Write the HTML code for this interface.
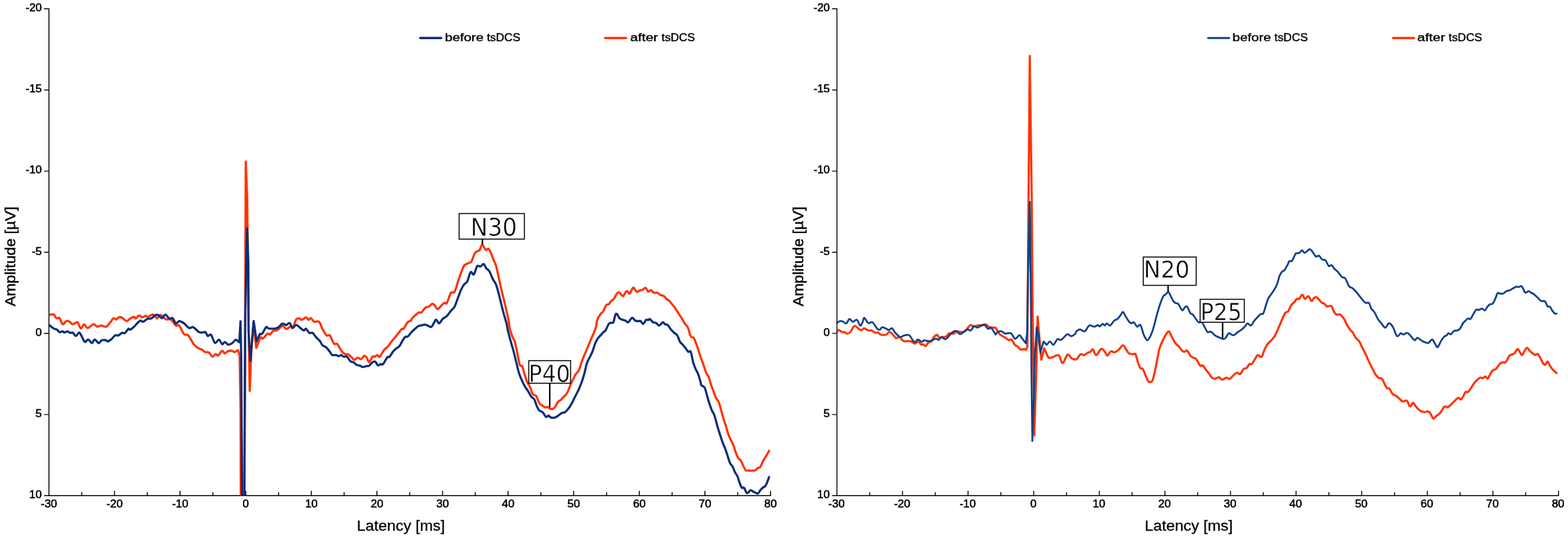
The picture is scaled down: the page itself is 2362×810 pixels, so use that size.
<!DOCTYPE html>
<html lang="en">
<head>
<meta charset="utf-8">
<title>SEP before and after tsDCS</title>
<style>
html,body{margin:0;padding:0;background:#fff;}
body{width:2362px;height:810px;overflow:hidden;}
svg{display:block;filter:blur(0.4px);}
.tk text{font-family:"Liberation Sans",sans-serif;font-size:16px;fill:#000;stroke:#000;stroke-width:0.55px;}
.ax{font-family:"Liberation Sans",sans-serif;font-size:22.4px;fill:#000;stroke:#000;stroke-width:0.3px;}
.lg{font-family:"Liberation Sans",sans-serif;font-size:16px;fill:#000;stroke:#000;stroke-width:0.4px;}
.an{font-family:"DejaVu Sans","Liberation Sans",sans-serif;fill:#000;stroke:#fff;stroke-width:0.6px;}
.cv{fill:none;stroke-linejoin:round;stroke-linecap:round;}
</style>
</head>
<body>
<svg width="2362" height="810" viewBox="0 0 2362 810">
<defs>
<clipPath id="cl"><rect x="74" y="0" width="1090" height="746.6"/></clipPath>
<clipPath id="cr"><rect x="1261" y="0" width="1090" height="746.6"/></clipPath>
</defs>
<rect width="2362" height="810" fill="#fff"/>

<!-- left chart -->
<path d="M73.7,13.3 V746.2 H1160.7 M67.1,13.3 H73.7 M67.1,135.5 H73.7 M67.1,257.6 H73.7 M67.1,379.8 H73.7 M67.1,501.9 H73.7 M67.1,624.1 H73.7 M67.1,746.2 H73.7 M73.7,746.2 V739.6 M123.1,746.2 V741.6 M172.5,746.2 V739.6 M221.9,746.2 V741.6 M271.3,746.2 V739.6 M320.7,746.2 V741.6 M370.2,746.2 V739.6 M419.6,746.2 V741.6 M469.0,746.2 V739.6 M518.4,746.2 V741.6 M567.8,746.2 V739.6 M617.2,746.2 V741.6 M666.6,746.2 V739.6 M716.0,746.2 V741.6 M765.4,746.2 V739.6 M814.8,746.2 V741.6 M864.2,746.2 V739.6 M913.7,746.2 V741.6 M963.1,746.2 V739.6 M1012.5,746.2 V741.6 M1061.9,746.2 V739.6 M1111.3,746.2 V741.6 M1160.7,746.2 V739.6" fill="none" stroke="#000" stroke-width="1.45" stroke-linecap="square"/>
<g class="tk" text-anchor="end">
<text x="63.0" y="17.1" textLength="24.5" lengthAdjust="spacingAndGlyphs">-20</text>
<text x="63.0" y="139.3" textLength="24.5" lengthAdjust="spacingAndGlyphs">-15</text>
<text x="63.0" y="261.4" textLength="24.5" lengthAdjust="spacingAndGlyphs">-10</text>
<text x="63.0" y="383.6" textLength="15.0" lengthAdjust="spacingAndGlyphs">-5</text>
<text x="63.0" y="505.7" textLength="9.4" lengthAdjust="spacingAndGlyphs">0</text>
<text x="63.0" y="627.9" textLength="9.4" lengthAdjust="spacingAndGlyphs">5</text>
<text x="63.0" y="750.0" textLength="18.9" lengthAdjust="spacingAndGlyphs">10</text>
</g>
<g class="tk" text-anchor="middle">
<text x="73.8" y="764.1" textLength="24.5" lengthAdjust="spacingAndGlyphs">-30</text>
<text x="172.6" y="764.1" textLength="24.5" lengthAdjust="spacingAndGlyphs">-20</text>
<text x="271.4" y="764.1" textLength="24.5" lengthAdjust="spacingAndGlyphs">-10</text>
<text x="370.3" y="764.1" textLength="9.4" lengthAdjust="spacingAndGlyphs">0</text>
<text x="469.1" y="764.1" textLength="18.9" lengthAdjust="spacingAndGlyphs">10</text>
<text x="567.9" y="764.1" textLength="18.9" lengthAdjust="spacingAndGlyphs">20</text>
<text x="666.7" y="764.1" textLength="18.9" lengthAdjust="spacingAndGlyphs">30</text>
<text x="765.5" y="764.1" textLength="18.9" lengthAdjust="spacingAndGlyphs">40</text>
<text x="864.3" y="764.1" textLength="18.9" lengthAdjust="spacingAndGlyphs">50</text>
<text x="963.2" y="764.1" textLength="18.9" lengthAdjust="spacingAndGlyphs">60</text>
<text x="1062.0" y="764.1" textLength="18.9" lengthAdjust="spacingAndGlyphs">70</text>
<text x="1160.8" y="764.1" textLength="18.9" lengthAdjust="spacingAndGlyphs">80</text>
</g>
<text class="ax" x="537.4" y="799.1" textLength="132.9" lengthAdjust="spacingAndGlyphs">Latency [ms]</text>
<text class="ax" style="stroke-width:0.5px" transform="translate(23.3 461.2) rotate(-90)" textLength="150.2" lengthAdjust="spacingAndGlyphs">Amplitude [µV]</text>
<g clip-path="url(#cl)">
<path class="cv" d="M74.1,474.1C75.2,473.9 79.2,472.5 81.0,473.3C82.8,474.2 83.2,478.0 84.7,479.0C86.2,480.0 88.0,477.4 89.6,479.0C91.3,480.6 92.9,487.6 94.6,488.4C96.2,489.2 97.8,484.2 99.5,483.5C101.2,482.7 102.8,483.2 104.4,484.0C106.1,484.7 107.3,487.9 109.4,488.1C111.5,488.4 114.7,484.1 116.8,485.2C118.9,486.3 120.0,494.0 121.7,494.6C123.4,495.1 125.0,488.5 126.7,488.4C128.3,488.3 129.9,493.4 131.6,493.8C133.3,494.2 134.9,491.8 136.5,490.9C138.2,489.9 139.8,488.0 141.5,488.1C143.2,488.3 144.5,491.5 146.4,491.9C148.3,492.2 150.3,490.1 152.6,490.1C154.9,490.1 157.7,492.7 160.0,491.9C162.3,491.0 164.3,487.4 166.2,485.2C168.1,483.0 169.6,479.7 171.1,479.0C172.6,478.3 173.3,481.3 174.8,481.0C176.3,480.7 178.1,477.6 179.8,477.3C181.4,476.9 182.8,478.0 184.7,479.0C186.6,480.1 188.8,483.5 190.9,483.5C193.0,483.5 195.1,480.1 197.0,479.0C198.9,477.9 200.7,477.0 202.0,477.0C203.2,477.1 203.2,479.9 204.4,479.5C205.7,479.1 207.7,475.1 209.4,474.8C211.1,474.5 212.6,477.7 214.3,477.8C216.0,477.9 217.8,475.4 219.3,475.3C220.7,475.2 221.1,477.6 223.0,477.3C224.9,476.9 228.1,473.0 230.4,473.3C232.7,473.7 234.7,479.4 236.5,479.5C238.4,479.6 239.2,473.9 241.5,474.1C243.8,474.3 247.4,479.6 250.1,480.7C252.9,481.9 255.0,479.4 257.5,481.0C260.0,482.6 262.8,488.6 264.9,490.1C267.0,491.7 267.8,487.9 269.9,490.1C272.0,492.3 275.0,500.7 277.3,503.2C279.6,505.7 280.9,502.3 283.5,504.9C286.0,507.5 289.4,515.2 292.1,518.5C294.8,521.9 297.4,523.3 299.5,524.7C301.6,526.0 303.0,525.6 304.4,526.4C305.9,527.3 307.2,529.0 308.1,529.6C309.1,530.3 308.8,529.9 310.0,530.1C311.2,530.4 313.3,529.9 314.9,531.1C316.6,532.3 318.2,536.7 319.9,537.0C321.6,537.4 323.3,533.4 324.8,533.1C326.3,532.8 327.1,535.9 328.8,535.1C330.4,534.2 333.0,528.7 334.7,528.1C336.4,527.6 337.1,532.0 338.6,532.1C340.2,532.2 341.7,529.3 343.6,528.6C345.4,528.0 347.8,527.9 349.5,528.1C351.2,528.4 351.9,530.3 353.5,530.1L358.4,527.2L361.0,535.0L362.4,620.0L363.0,900.0L367.3,900.0L369.3,480.0L370.2,243.2L372.4,300.0L374.6,500.0L376.2,588.4L378.8,525.0L382.0,487.0L386.0,524.0L392.0,508.4C393.7,506.0 394.1,510.9 395.9,509.9C397.8,508.9 401.0,503.6 402.8,502.5C404.7,501.4 405.3,504.2 406.8,503.5C408.3,502.7 410.0,499.0 411.7,498.0C413.4,497.0 415.3,498.0 416.7,497.5C418.0,497.1 418.1,496.7 419.6,495.6C421.1,494.4 423.8,490.8 425.6,490.6C427.3,490.4 428.8,493.8 430.0,494.6C431.2,495.3 431.3,495.6 432.6,495.1C433.9,494.5 436.1,491.6 437.5,491.4C439.0,491.1 439.8,495.6 441.2,493.8C442.7,492.1 444.5,483.4 446.2,481.0C447.9,478.6 449.6,479.4 451.1,479.5C452.6,479.6 453.1,481.8 454.8,481.5C456.5,481.2 459.3,477.8 461.0,477.8C462.7,477.8 463.4,481.3 464.7,481.5C466.0,481.7 466.9,478.5 468.4,479.0C469.9,479.5 471.2,483.5 473.3,484.4C475.4,485.4 478.6,482.6 480.7,484.4C482.8,486.2 483.8,491.6 485.7,495.1C487.6,498.5 490.0,503.3 491.9,504.9C493.7,506.6 494.9,502.8 496.8,504.9C498.7,507.0 501.1,515.1 503.0,517.3C504.9,519.5 505.8,515.9 507.9,518.0C510.0,520.1 513.2,527.0 515.3,529.6C517.4,532.2 518.8,532.7 520.2,533.3C521.7,534.0 522.3,532.5 524.0,533.3C525.6,534.2 528.4,536.8 530.1,538.3C531.8,539.7 532.4,542.0 533.8,542.0C535.3,542.0 537.1,538.5 538.8,538.3C540.4,538.1 542.0,541.2 543.7,540.7C545.4,540.3 547.2,536.2 548.6,535.8C550.1,535.4 551.1,536.7 552.3,538.3C553.6,539.9 554.6,545.4 556.0,545.2C557.5,545.0 559.5,538.4 561.0,537.0C562.5,535.7 563.4,537.5 564.7,537.0C566.0,536.6 567.1,534.6 568.4,534.6C569.7,534.6 570.4,538.3 572.1,537.0C573.8,535.8 576.2,529.8 578.3,527.2C580.4,524.5 582.6,523.6 584.4,521.5C586.3,519.4 587.5,517.2 589.4,514.8C591.3,512.4 593.7,509.7 595.6,507.4C597.4,505.1 598.8,503.3 600.5,501.2C602.2,499.1 604.2,496.1 605.4,495.1C606.7,494.0 606.4,496.7 607.9,495.1C609.4,493.4 612.2,487.3 614.1,485.2C616.0,483.1 618.0,483.6 619.0,482.7C620.0,481.9 618.8,481.7 620.0,480.2C621.2,478.8 624.3,475.8 626.2,474.1C628.1,472.4 629.6,471.0 631.1,470.4C632.6,469.7 633.1,471.6 634.8,470.4C636.5,469.1 639.1,464.4 641.0,463.0C642.9,461.5 644.2,462.7 645.9,461.7C647.6,460.8 649.4,458.0 650.9,457.5C652.3,457.1 653.2,457.9 654.6,459.3C656.0,460.6 657.3,465.2 659.0,465.4C660.7,465.6 662.7,462.1 664.4,460.5C666.2,458.9 667.9,456.8 669.4,456.0C670.9,455.3 671.4,458.7 673.1,456.0C674.8,453.4 677.3,443.6 679.3,440.7C681.2,437.9 682.8,442.7 684.7,439.5C686.6,436.4 688.6,427.5 690.4,422.2C692.2,417.0 693.8,412.4 695.3,408.6C696.8,404.9 697.8,401.9 699.0,400.0C700.3,398.1 701.5,398.2 702.7,397.5C704.0,396.8 705.2,396.4 706.4,395.8C707.7,395.2 708.7,396.3 710.1,393.8C711.6,391.4 713.6,384.1 715.1,381.5C716.5,378.9 717.5,379.4 718.8,378.5C720.0,377.7 721.2,378.2 722.5,376.5C723.7,374.9 724.9,369.1 726.2,368.6C727.4,368.1 728.8,372.2 729.9,373.6C730.9,374.9 731.3,376.4 732.3,376.5C733.4,376.7 734.8,373.7 736.0,374.6C737.3,375.4 738.5,378.6 739.8,381.5C741.0,384.3 742.2,388.2 743.5,391.4C744.7,394.5 745.9,395.8 747.2,400.0C748.4,404.2 749.4,409.5 750.9,416.0C752.3,422.6 754.1,431.1 755.8,438.3C757.5,445.4 759.1,450.9 760.7,458.0C762.4,465.2 764.4,474.0 765.7,480.2C766.9,486.5 767.1,490.2 768.1,494.8C769.2,499.4 770.6,503.8 771.9,507.2C773.1,510.5 774.3,510.4 775.6,514.6C776.8,518.8 778.0,526.0 779.3,531.9C780.5,537.7 781.7,545.8 783.0,549.1C784.2,552.5 785.4,549.1 786.7,551.6C787.9,554.1 789.1,560.0 790.4,564.0C791.6,567.9 792.8,572.1 794.1,575.1C795.3,578.0 796.3,578.1 797.8,581.2C799.2,584.4 801.0,591.1 802.7,593.6C804.4,596.1 806.0,593.7 807.7,596.0C809.3,598.4 810.9,604.6 812.6,607.2C814.3,609.7 816.1,609.8 817.5,610.9C819.0,611.9 820.0,613.0 821.2,613.3C822.5,613.7 823.7,612.5 824.9,612.8C826.2,613.2 827.2,614.9 828.6,615.3C830.1,615.7 832.1,616.1 833.6,615.3C835.0,614.6 836.0,612.7 837.3,610.9C838.5,609.1 839.7,606.2 841.0,604.7C842.2,603.2 843.4,603.4 844.7,602.2C846.0,601.1 847.1,599.3 848.4,598.0C849.7,596.8 850.8,596.4 852.1,594.8C853.4,593.2 854.5,591.4 855.8,588.6C857.1,585.9 858.2,581.7 859.5,578.8C860.8,575.8 862.0,573.9 863.2,571.4C864.5,568.8 865.4,566.3 866.9,564.0C868.4,561.6 870.4,560.7 871.9,557.8C873.3,554.8 874.3,550.2 875.6,546.7C876.8,543.1 877.8,540.4 879.3,536.8C880.7,533.2 882.5,529.7 884.2,525.7C885.9,521.7 887.5,517.3 889.1,513.3C890.8,509.3 892.6,505.8 894.1,502.2C895.5,498.7 896.8,495.9 897.8,492.3C898.7,488.8 898.6,484.8 899.8,481.5C900.9,478.2 903.2,474.9 904.7,472.8C906.2,470.7 906.9,471.4 908.4,469.1C909.9,466.8 911.9,461.1 913.3,459.3C914.8,457.4 915.8,459.1 917.0,458.0C918.3,457.0 919.5,454.3 920.7,453.1C922.0,451.8 923.0,452.5 924.4,450.6C925.9,448.7 928.0,443.8 929.4,442.0C930.7,440.2 931.3,439.8 932.3,440.0C933.4,440.2 934.5,442.2 935.6,443.2C936.6,444.2 937.5,446.4 938.8,445.7C940.0,445.0 941.8,440.1 943.0,439.0C944.1,437.9 944.5,438.5 945.4,439.0C946.4,439.5 947.3,442.9 948.6,442.0C950.0,441.0 952.2,434.4 953.6,433.3C954.9,432.3 955.5,434.8 956.5,435.8C957.6,436.9 958.2,439.3 959.5,439.5C960.8,439.7 962.6,437.5 964.0,437.0C965.3,436.5 966.2,437.2 967.7,436.5C969.1,435.9 971.1,432.9 972.6,433.3C974.1,433.8 974.9,438.4 976.3,439.0C977.7,439.6 979.3,436.7 980.7,437.0C982.2,437.3 983.4,440.1 984.9,440.7C986.5,441.4 988.2,440.2 989.9,440.7C991.6,441.3 993.1,443.1 994.8,444.0C996.5,444.8 998.1,444.5 999.8,445.7C1001.4,446.8 1003.2,449.4 1004.7,450.6C1006.2,451.9 1006.9,451.6 1008.4,453.1C1009.9,454.6 1011.9,457.5 1013.3,459.3C1014.8,461.1 1015.6,461.6 1017.0,463.7C1018.5,465.8 1020.3,469.0 1022.0,471.6C1023.7,474.2 1025.2,476.3 1026.9,479.0C1028.6,481.7 1030.3,485.3 1031.9,487.7C1033.4,490.0 1034.6,489.4 1036.0,492.6C1037.5,495.7 1039.0,503.4 1040.5,506.2C1042.0,508.9 1043.5,506.5 1044.9,508.6C1046.4,510.7 1047.8,515.0 1049.1,518.5C1050.5,522.1 1051.6,525.9 1052.8,529.6C1054.1,533.4 1055.3,537.2 1056.5,540.7C1057.8,544.3 1059.0,547.0 1060.2,550.6C1061.5,554.2 1062.7,558.8 1064.0,561.7C1065.2,564.7 1066.4,564.8 1067.7,567.9C1068.9,571.0 1070.1,576.3 1071.4,580.0C1072.6,583.7 1073.8,586.5 1075.1,589.9C1076.3,593.2 1077.5,597.2 1078.8,599.8C1080.0,602.3 1081.2,601.8 1082.5,604.7C1083.7,607.6 1084.9,612.6 1086.2,617.0C1087.4,621.4 1088.6,626.4 1089.9,630.6C1091.1,634.8 1092.3,637.7 1093.6,641.7C1094.8,645.7 1096.0,650.5 1097.3,654.1C1098.5,657.6 1099.7,660.0 1101.0,662.7C1102.2,665.4 1103.4,667.0 1104.7,670.1C1106.0,673.3 1107.1,677.9 1108.4,681.2C1109.7,684.6 1110.8,687.9 1112.1,689.9C1113.4,691.9 1114.5,691.2 1115.8,693.1C1117.1,695.0 1118.2,698.5 1119.5,701.0C1120.8,703.5 1122.0,706.6 1123.2,707.9C1124.5,709.2 1124.6,708.3 1126.9,708.4C1129.2,708.5 1134.3,709.0 1136.8,708.4C1139.3,707.8 1140.3,705.6 1141.7,704.7C1143.2,703.8 1144.2,704.6 1145.4,703.0C1146.7,701.3 1147.9,697.2 1149.1,694.8C1150.4,692.4 1151.6,690.7 1152.8,688.6C1154.1,686.5 1155.6,684.1 1156.5,682.5C1157.5,680.8 1158.2,679.4 1158.5,678.8" stroke="#ff3300" stroke-width="3.3"/>
<path class="cv" d="M74.1,489.4C75.2,490.3 79.0,493.4 81.0,494.6C83.0,495.7 84.5,495.4 85.9,496.3C87.4,497.2 88.2,499.6 89.6,500.0C91.1,500.4 93.3,498.6 94.6,498.8C95.8,498.9 95.8,500.7 97.0,500.7C98.3,500.7 100.5,498.7 102.0,498.8C103.4,498.8 104.4,500.9 105.7,501.2C106.9,501.6 107.9,500.0 109.4,500.7C110.9,501.5 112.6,505.7 114.3,505.7C116.0,505.7 117.8,500.7 119.3,500.7C120.7,500.8 121.5,503.8 123.0,506.2C124.4,508.6 126.2,514.0 127.9,514.8C129.6,515.7 131.0,510.8 132.8,511.1C134.6,511.4 136.8,516.5 138.5,516.5C140.2,516.5 141.0,511.1 142.7,511.1C144.4,511.1 146.6,516.3 148.4,516.5C150.2,516.8 151.4,513.1 153.3,512.3C155.3,511.6 158.4,512.1 160.0,512.3C161.6,512.6 161.2,514.3 162.5,514.1C163.7,513.9 165.5,512.7 167.4,511.1C169.3,509.6 171.7,506.0 173.6,504.9C175.5,503.9 176.8,505.6 178.5,504.9C180.2,504.3 181.8,501.9 183.5,501.2C185.1,500.6 186.7,502.3 188.4,501.2C190.1,500.2 192.1,495.9 193.3,495.1C194.6,494.2 194.3,496.8 195.8,496.3C197.3,495.8 199.9,493.7 202.0,491.9C204.1,490.0 206.5,486.7 208.1,485.2C209.8,483.6 210.6,482.8 211.9,482.7C213.1,482.6 213.9,484.9 215.6,484.4C217.2,484.0 219.6,481.1 221.7,480.2C223.8,479.4 226.0,480.3 227.9,479.5C229.8,478.7 231.2,476.2 232.8,475.3C234.5,474.4 235.9,473.4 237.8,474.1C239.7,474.7 242.1,479.1 244.0,479.0C245.8,478.9 247.0,473.5 248.9,473.6C250.8,473.7 253.2,478.6 255.1,479.5C257.0,480.4 258.3,477.8 260.0,479.0C261.7,480.3 263.3,486.2 264.9,486.9C266.6,487.7 267.8,483.5 269.9,483.5C272.0,483.5 274.8,485.2 277.3,486.9C279.8,488.7 282.4,492.9 284.7,493.8C287.0,494.8 288.6,491.8 290.9,492.6C293.2,493.4 296.4,497.4 298.3,498.8C300.2,500.2 300.3,500.5 302.0,500.7C303.7,501.0 306.8,500.0 308.1,500.0C309.5,500.0 309.2,499.5 310.0,500.5C310.8,501.5 311.6,505.3 313.0,505.9C314.3,506.5 316.1,502.2 317.9,504.0C319.7,505.7 321.8,515.0 323.8,516.3C325.8,517.6 327.9,511.0 329.8,511.4C331.6,511.7 333.2,517.7 334.7,518.3C336.2,518.9 337.1,514.7 338.6,514.8C340.2,514.9 341.7,518.4 343.6,518.8C345.4,519.1 347.5,518.0 349.5,516.8C351.5,515.5 353.6,511.6 355.4,511.4L360.4,515.3L362.3,483.7L363.4,540.0L365.5,900.0L367.3,900.0L369.5,470.0L372.2,344.0L374.0,392.0L374.4,500.0L377.2,543.0L382.1,483.2L386.5,513.8L391.0,503.5C392.4,501.5 393.3,504.3 394.9,502.5C396.6,500.6 399.2,493.9 400.9,492.6C402.5,491.2 402.5,494.2 404.8,494.6C407.2,494.9 412.2,494.9 414.7,494.6C417.2,494.2 417.8,493.9 419.6,492.6C421.5,491.3 423.8,487.7 425.6,487.2C427.3,486.6 429.0,488.8 430.0,489.1C431.0,489.5 430.3,489.8 431.4,489.4C432.4,488.9 434.7,485.7 436.3,486.4C437.9,487.1 439.1,492.8 440.7,493.3C442.4,493.8 444.4,489.5 446.2,489.4C447.9,489.3 449.2,491.2 451.1,492.6C453.0,494.0 455.6,497.1 457.3,497.5C459.0,498.0 459.5,494.4 461.0,495.1C462.5,495.7 464.2,500.2 465.9,501.2C467.6,502.3 469.2,500.2 470.9,501.2C472.5,502.3 473.9,505.3 475.8,507.4C477.7,509.5 480.3,511.5 482.0,513.6C483.7,515.7 484.0,518.1 485.7,519.8C487.4,521.4 490.0,521.8 491.9,523.5C493.7,525.1 495.3,527.7 496.8,529.6C498.3,531.5 498.8,533.7 500.5,534.6C502.2,535.4 505.0,534.3 506.7,534.6C508.3,534.9 509.1,536.3 510.4,536.3C511.6,536.3 512.8,534.4 514.1,534.6C515.3,534.7 516.3,536.6 517.8,537.0C519.2,537.5 521.0,535.9 522.7,537.0C524.4,538.2 526.0,542.2 527.7,543.7C529.3,545.2 530.9,544.7 532.6,545.7C534.3,546.6 535.9,548.5 537.5,549.4C539.2,550.2 541.0,550.1 542.5,550.6C543.9,551.2 544.5,552.5 546.2,552.6C547.9,552.7 550.7,551.4 552.3,551.1C554.0,550.8 554.6,551.5 556.0,550.6C557.5,549.7 559.4,546.7 561.0,545.7C562.5,544.6 563.7,543.7 565.2,544.4C566.7,545.2 568.2,549.5 569.6,550.1C571.0,550.8 572.1,548.5 573.3,548.1C574.6,547.8 575.4,549.8 577.0,548.1C578.7,546.5 581.5,540.2 583.2,538.3C584.9,536.4 585.4,538.5 586.9,537.0C588.4,535.6 590.2,531.7 591.9,529.6C593.5,527.5 595.1,526.2 596.8,524.7C598.5,523.2 600.0,523.1 601.7,521.0C603.4,518.9 605.2,514.7 606.7,512.3C608.1,510.0 609.1,508.4 610.4,507.4C611.6,506.4 612.6,507.7 614.1,506.7C615.5,505.6 618.0,502.4 619.0,501.2C620.0,500.1 619.0,500.8 620.0,499.8C621.0,498.7 623.3,496.8 624.9,495.3C626.6,493.8 628.2,492.0 629.9,491.1C631.6,490.2 633.1,490.3 634.8,489.9C636.5,489.5 638.1,488.6 639.8,488.6C641.4,488.7 643.0,489.7 644.7,490.4C646.4,491.0 648.2,492.9 649.6,492.3C651.1,491.8 652.1,488.8 653.3,486.9C654.6,485.0 655.7,481.2 657.0,481.2C658.4,481.2 659.8,487.1 661.5,486.9C663.2,486.7 664.9,481.9 666.9,480.0C668.9,478.1 671.0,477.9 673.1,475.8C675.2,473.7 677.3,470.3 679.3,467.9C681.2,465.5 682.8,465.3 684.7,461.7C686.6,458.2 688.6,451.5 690.4,446.9C692.2,442.3 693.8,437.7 695.3,434.6C696.8,431.4 697.5,430.3 699.0,428.4C700.5,426.5 702.3,426.6 704.0,423.5C705.6,420.3 707.2,411.6 708.9,409.9C710.6,408.1 712.1,414.6 713.8,413.1C715.5,411.5 717.1,402.8 718.8,400.7C720.4,398.7 722.0,401.8 723.7,401.2C725.4,400.7 727.2,397.1 728.6,397.5C730.1,398.0 730.9,401.8 732.3,403.7C733.8,405.6 735.6,405.9 737.3,408.6C739.0,411.4 740.5,416.4 742.2,419.8C743.9,423.1 745.7,424.8 747.2,428.4C748.6,432.0 749.6,436.1 750.9,440.7C752.1,445.4 753.3,450.5 754.6,455.6C755.8,460.6 756.8,464.9 758.3,470.4C759.7,475.8 762.2,483.5 763.2,487.7C764.3,491.8 763.6,491.1 764.4,494.8C765.3,498.6 766.7,504.2 768.1,509.6C769.6,515.1 771.4,520.6 773.1,526.9C774.8,533.2 776.6,540.8 778.0,546.7C779.5,552.5 780.3,556.9 781.7,561.5C783.2,566.1 785.2,570.5 786.7,573.8C788.1,577.2 788.9,578.7 790.4,581.2C791.8,583.8 793.6,585.9 795.3,588.6C797.0,591.4 798.7,595.2 800.2,597.3C801.8,599.4 803.2,598.5 804.7,601.0C806.2,603.5 807.5,609.2 808.9,612.1C810.2,615.0 811.1,616.8 812.6,618.3C814.1,619.7 815.9,619.1 817.5,620.7C819.2,622.3 821.0,626.8 822.5,627.7C823.9,628.5 824.9,625.5 826.2,625.7C827.4,625.8 828.2,628.1 829.9,628.6C831.6,629.1 834.2,629.1 836.0,628.6C837.9,628.1 839.3,626.8 841.0,625.7C842.7,624.5 844.2,622.8 845.9,622.0C847.6,621.1 849.2,621.8 850.9,620.7C852.5,619.7 854.1,617.9 855.8,615.8C857.5,613.7 859.3,610.9 860.7,608.4C862.2,605.9 863.2,603.5 864.4,601.0C865.7,598.5 866.9,596.1 868.1,593.6C869.4,591.1 870.4,589.5 871.9,586.2C873.3,582.8 875.3,578.0 876.8,573.8C878.3,569.6 879.3,565.8 880.5,561.5C881.7,557.1 882.5,551.9 883.7,548.1C884.9,544.4 885.9,542.7 887.4,539.5C888.9,536.4 890.9,533.2 892.3,529.6C893.8,526.1 894.8,521.8 896.0,518.5C897.3,515.3 898.3,512.9 899.8,510.6C901.2,508.3 903.2,506.6 904.7,504.9C906.2,503.3 907.1,502.0 908.4,500.7C909.7,499.5 910.6,499.8 912.1,497.5C913.6,495.3 915.6,489.6 917.0,487.7C918.5,485.7 919.6,486.3 920.7,485.9C921.9,485.5 922.9,487.2 924.0,485.2C925.0,483.2 926.0,476.2 926.9,474.1C927.8,472.0 928.3,472.0 929.4,472.8C930.4,473.7 931.6,477.5 933.1,479.0C934.6,480.5 936.5,480.9 938.0,481.5C939.6,482.1 940.8,482.1 942.2,482.7C943.6,483.3 944.8,485.6 946.2,485.2C947.6,484.8 949.2,481.4 950.4,480.2C951.5,479.1 951.7,478.1 952.8,478.5C954.0,478.9 955.6,481.9 957.0,482.7C958.5,483.6 960.1,483.3 961.5,483.5C962.9,483.6 963.9,482.7 965.2,483.5C966.4,484.2 967.5,488.0 968.9,487.7C970.3,487.3 972.1,482.4 973.3,481.5C974.6,480.5 975.4,482.2 976.3,482.0C977.2,481.8 977.5,479.7 978.8,480.2C980.0,480.8 982.0,484.1 983.7,485.2C985.4,486.2 987.2,485.6 988.6,486.4C990.1,487.3 991.1,489.9 992.3,490.1C993.6,490.3 995.0,488.5 996.0,487.7C997.1,486.8 997.5,485.1 998.5,485.2C999.6,485.3 1001.0,487.7 1002.2,488.4C1003.5,489.1 1004.5,488.0 1005.9,489.4C1007.4,490.7 1009.2,494.3 1010.9,496.3C1012.5,498.3 1014.2,499.8 1015.8,501.2C1017.4,502.7 1018.8,502.6 1020.2,504.9C1021.7,507.2 1023.1,512.5 1024.4,514.8C1025.8,517.1 1026.7,516.8 1028.1,518.5C1029.6,520.2 1031.6,522.8 1033.1,524.7C1034.6,526.6 1035.5,528.8 1036.8,529.6C1038.0,530.5 1039.2,526.9 1040.5,529.6C1041.8,532.4 1042.9,541.3 1044.2,545.7C1045.5,550.1 1046.6,552.6 1047.9,555.6C1049.2,558.5 1050.3,559.6 1051.6,563.0C1052.9,566.3 1054.5,572.4 1055.3,575.3C1056.1,578.2 1055.5,578.6 1056.5,580.0C1057.6,581.4 1060.0,581.0 1061.5,583.7C1063.0,586.4 1063.9,591.9 1065.2,596.0C1066.4,600.2 1067.6,604.6 1068.9,608.4C1070.1,612.2 1071.3,615.3 1072.6,618.3C1073.9,621.2 1075.0,622.1 1076.3,625.7C1077.6,629.2 1078.7,634.9 1080.0,639.3C1081.3,643.7 1082.2,647.0 1083.7,651.6C1085.2,656.2 1087.2,662.4 1088.6,666.4C1090.1,670.4 1091.1,671.7 1092.3,675.1C1093.6,678.4 1094.8,682.4 1096.0,686.2C1097.3,690.0 1098.5,694.6 1099.8,697.3C1101.0,700.0 1102.2,699.9 1103.5,702.2C1104.7,704.5 1105.9,708.3 1107.2,710.9C1108.4,713.4 1109.6,714.1 1110.9,717.0C1112.1,720.0 1113.4,725.2 1114.6,728.1C1115.7,731.1 1116.5,733.3 1117.5,734.3C1118.6,735.4 1119.6,733.1 1120.7,734.3C1121.9,735.6 1123.4,740.5 1124.4,741.7C1125.5,743.0 1125.9,742.4 1126.9,741.7C1128.0,741.1 1129.4,738.3 1130.6,738.0C1131.9,737.7 1133.1,739.4 1134.3,740.0C1135.6,740.6 1136.8,741.2 1138.0,741.7C1139.3,742.2 1140.5,743.6 1141.7,743.0C1143.0,742.3 1144.2,739.5 1145.4,738.0C1146.7,736.6 1147.9,735.4 1149.1,734.3C1150.4,733.3 1151.8,733.1 1152.8,731.9C1153.9,730.6 1154.3,729.2 1155.3,726.9C1156.3,724.6 1158.0,719.7 1158.5,718.3" stroke="#0a2d76" stroke-width="3.3"/>
</g>
<path d="M633.1,57.3 h31.4" stroke="#0a2d76" stroke-width="3.6" stroke-linecap="round" fill="none"/>
<text class="lg" y="62.3"><tspan x="670.3" textLength="58" lengthAdjust="spacingAndGlyphs">before</tspan><tspan x="733.5" textLength="50.3" lengthAdjust="spacingAndGlyphs">tsDCS</tspan></text>
<path d="M911.6,57.3 h31.4" stroke="#ff3300" stroke-width="3.6" stroke-linecap="round" fill="none"/>
<text class="lg" y="62.3"><tspan x="949.3" textLength="42" lengthAdjust="spacingAndGlyphs">after</tspan><tspan x="996.6" textLength="50.3" lengthAdjust="spacingAndGlyphs">tsDCS</tspan></text>
<rect x="691.6" y="321.5" width="98.3" height="38.5" fill="#fff" stroke="#000" stroke-width="1.5"/><text class="an" x="708.7" y="354.7" font-size="36.6" textLength="70.2" lengthAdjust="spacingAndGlyphs">N30</text><path d="M726.7,360.0 V368.5" stroke="#000" stroke-width="2.2" fill="none"/>
<rect x="796.5" y="543.0" width="63.0" height="34.0" fill="#fff" stroke="#000" stroke-width="1.5"/><text class="an" x="796.3" y="574.6" font-size="35.8" textLength="62.9" lengthAdjust="spacingAndGlyphs">P40</text><path d="M828.1,577.0 V613.3" stroke="#000" stroke-width="2.2" fill="none"/>

<!-- right chart -->
<path d="M1260.7,13.3 V746.2 H2347.7 M1254.1,13.3 H1260.7 M1254.1,135.5 H1260.7 M1254.1,257.6 H1260.7 M1254.1,379.8 H1260.7 M1254.1,501.9 H1260.7 M1254.1,624.1 H1260.7 M1254.1,746.2 H1260.7 M1260.7,746.2 V739.6 M1310.1,746.2 V741.6 M1359.5,746.2 V739.6 M1408.9,746.2 V741.6 M1458.3,746.2 V739.6 M1507.7,746.2 V741.6 M1557.2,746.2 V739.6 M1606.6,746.2 V741.6 M1656.0,746.2 V739.6 M1705.4,746.2 V741.6 M1754.8,746.2 V739.6 M1804.2,746.2 V741.6 M1853.6,746.2 V739.6 M1903.0,746.2 V741.6 M1952.4,746.2 V739.6 M2001.8,746.2 V741.6 M2051.2,746.2 V739.6 M2100.7,746.2 V741.6 M2150.1,746.2 V739.6 M2199.5,746.2 V741.6 M2248.9,746.2 V739.6 M2298.3,746.2 V741.6 M2347.7,746.2 V739.6" fill="none" stroke="#000" stroke-width="1.4" stroke-linecap="square"/>
<g class="tk" text-anchor="end">
<text x="1250.0" y="17.1" textLength="24.5" lengthAdjust="spacingAndGlyphs">-20</text>
<text x="1250.0" y="139.3" textLength="24.5" lengthAdjust="spacingAndGlyphs">-15</text>
<text x="1250.0" y="261.4" textLength="24.5" lengthAdjust="spacingAndGlyphs">-10</text>
<text x="1250.0" y="383.6" textLength="15.0" lengthAdjust="spacingAndGlyphs">-5</text>
<text x="1250.0" y="505.7" textLength="9.4" lengthAdjust="spacingAndGlyphs">0</text>
<text x="1250.0" y="627.9" textLength="9.4" lengthAdjust="spacingAndGlyphs">5</text>
<text x="1250.0" y="750.0" textLength="18.9" lengthAdjust="spacingAndGlyphs">10</text>
</g>
<g class="tk" text-anchor="middle">
<text x="1260.1" y="764.1" textLength="24.5" lengthAdjust="spacingAndGlyphs">-30</text>
<text x="1358.9" y="764.1" textLength="24.5" lengthAdjust="spacingAndGlyphs">-20</text>
<text x="1457.7" y="764.1" textLength="24.5" lengthAdjust="spacingAndGlyphs">-10</text>
<text x="1556.6" y="764.1" textLength="9.4" lengthAdjust="spacingAndGlyphs">0</text>
<text x="1655.4" y="764.1" textLength="18.9" lengthAdjust="spacingAndGlyphs">10</text>
<text x="1754.2" y="764.1" textLength="18.9" lengthAdjust="spacingAndGlyphs">20</text>
<text x="1853.0" y="764.1" textLength="18.9" lengthAdjust="spacingAndGlyphs">30</text>
<text x="1951.8" y="764.1" textLength="18.9" lengthAdjust="spacingAndGlyphs">40</text>
<text x="2050.6" y="764.1" textLength="18.9" lengthAdjust="spacingAndGlyphs">50</text>
<text x="2149.5" y="764.1" textLength="18.9" lengthAdjust="spacingAndGlyphs">60</text>
<text x="2248.3" y="764.1" textLength="18.9" lengthAdjust="spacingAndGlyphs">70</text>
<text x="2347.1" y="764.1" textLength="18.9" lengthAdjust="spacingAndGlyphs">80</text>
</g>
<text class="ax" x="1724.2" y="799.1" textLength="132.9" lengthAdjust="spacingAndGlyphs">Latency [ms]</text>
<text class="ax" style="stroke-width:0.5px" transform="translate(1210.3 461.2) rotate(-90)" textLength="150.2" lengthAdjust="spacingAndGlyphs">Amplitude [µV]</text>
<g clip-path="url(#cr)">
<path class="cv" d="M1260.4,500.0C1260.9,499.5 1262.2,496.8 1263.6,496.8C1265.0,496.8 1267.0,499.5 1268.5,500.0C1270.0,500.5 1271.0,499.6 1272.2,500.0C1273.5,500.4 1274.5,502.5 1275.9,502.5C1277.4,502.5 1279.2,501.8 1280.9,500.0C1282.5,498.2 1284.3,493.3 1285.8,491.9C1287.3,490.4 1288.0,490.7 1289.5,491.4C1291.0,492.0 1293.0,494.9 1294.4,495.8C1295.9,496.7 1296.9,497.0 1298.1,496.8C1299.4,496.5 1300.2,494.2 1301.9,494.3C1303.5,494.4 1306.1,497.0 1308.0,497.5C1309.9,498.1 1311.3,497.0 1313.0,497.5C1314.6,498.1 1316.2,500.2 1317.9,500.7C1319.6,501.3 1321.4,500.2 1322.8,500.7C1324.3,501.2 1324.4,503.2 1326.5,503.7C1328.6,504.2 1333.1,504.3 1335.2,503.7C1337.3,503.1 1337.6,500.4 1338.9,500.0C1340.1,499.6 1341.1,500.1 1342.6,501.2C1344.1,502.4 1346.3,505.3 1347.5,506.7C1348.8,508.0 1348.7,509.0 1350.0,509.1C1351.3,509.3 1353.0,506.7 1354.9,507.4C1356.8,508.2 1358.4,512.5 1361.1,513.6C1363.8,514.6 1368.0,513.0 1371.0,513.6C1373.9,514.2 1376.3,517.3 1378.4,517.3C1380.5,517.3 1381.9,513.4 1383.3,513.6C1384.8,513.8 1385.8,517.7 1387.0,518.5C1388.3,519.4 1389.5,518.1 1390.7,518.5C1392.0,518.9 1393.2,521.4 1394.4,521.0C1395.7,520.6 1396.7,517.3 1398.1,516.0C1399.6,514.8 1401.6,515.0 1403.1,513.6C1404.6,512.1 1405.3,509.0 1406.8,507.4C1408.3,505.8 1410.3,504.0 1411.7,504.2C1413.1,504.4 1413.5,508.1 1414.9,508.6C1416.4,509.2 1418.6,507.7 1420.4,507.4C1422.1,507.1 1423.6,507.6 1425.3,506.7C1427.0,505.7 1428.4,502.4 1430.2,501.7C1432.1,501.0 1434.5,503.0 1436.4,502.5C1438.3,502.0 1439.5,499.2 1441.4,498.8C1443.2,498.3 1445.4,500.0 1447.5,500.0C1449.6,500.0 1451.8,500.0 1453.7,498.8C1455.6,497.5 1457.2,494.2 1458.6,492.6C1460.1,491.0 1460.9,489.5 1462.3,489.4C1463.8,489.3 1465.6,491.7 1467.3,491.9C1469.0,492.0 1470.1,490.5 1472.2,490.1C1474.3,489.7 1477.5,489.7 1479.6,489.4C1481.7,489.1 1482.7,487.8 1484.6,488.4C1486.5,488.9 1488.6,491.8 1490.7,492.6C1492.8,493.4 1495.3,493.1 1496.9,493.3C1498.5,493.5 1498.5,492.1 1500.0,493.8C1501.5,495.5 1503.6,500.8 1505.9,503.2C1508.3,505.6 1511.5,506.6 1513.8,508.1C1516.2,509.7 1518.1,511.6 1519.8,512.1C1521.4,512.6 1522.2,509.9 1523.7,511.1C1525.2,512.3 1527.1,517.2 1528.6,519.0C1530.2,520.8 1531.1,520.2 1532.6,521.5C1534.1,522.7 1535.7,525.7 1537.5,526.4L1543.5,525.4L1545.4,526.9L1547.6,522.0L1549.3,300.0L1551.2,84.2L1554.2,300.0L1555.3,450.0L1556.9,560.0L1557.5,600.0L1558.0,655.3L1559.8,600.0L1561.0,560.0L1563.0,476.5L1568.6,541.7L1573.1,524.4L1577.0,533.8C1578.2,536.3 1578.5,538.1 1580.0,538.8C1581.5,539.4 1583.4,538.4 1585.9,537.8C1588.4,537.1 1592.3,533.3 1594.8,534.8C1597.3,536.3 1598.5,546.8 1600.7,546.7C1603.0,546.5 1605.8,535.0 1608.1,533.8C1610.5,532.7 1612.3,538.6 1614.6,539.8C1616.9,540.9 1619.4,541.8 1621.6,540.7C1623.9,539.6 1625.9,534.4 1627.8,533.3C1629.7,532.3 1630.8,535.0 1632.7,534.6C1634.6,534.1 1637.2,531.7 1638.9,530.9C1640.6,530.0 1641.3,530.5 1642.6,529.6C1643.9,528.8 1644.8,525.1 1646.3,525.9C1647.8,526.8 1649.1,534.7 1651.2,534.6C1653.3,534.5 1656.5,526.5 1658.6,525.4C1660.7,524.4 1662.0,526.7 1663.6,528.4C1665.2,530.1 1666.3,535.2 1668.0,535.3C1669.7,535.4 1671.7,529.7 1673.5,528.9C1675.2,528.0 1676.5,530.7 1678.4,530.4C1680.3,530.1 1682.3,529.0 1684.6,527.2C1686.8,525.4 1689.6,520.2 1691.5,519.8C1693.4,519.3 1694.1,522.6 1695.7,524.7C1697.2,526.8 1698.7,530.6 1700.6,532.1C1702.5,533.6 1705.1,533.1 1706.8,533.3C1708.5,533.5 1709.2,531.2 1710.5,533.3C1711.8,535.4 1712.9,542.1 1714.2,545.7C1715.5,549.2 1716.6,552.6 1717.9,554.3C1719.2,556.0 1720.3,553.7 1721.6,555.6C1722.9,557.4 1724.4,562.3 1725.8,565.4C1727.2,568.6 1728.2,572.6 1729.8,574.1C1731.3,575.5 1733.6,576.0 1735.2,574.1C1736.7,572.2 1737.6,568.0 1738.9,563.0C1740.1,557.9 1741.3,550.7 1742.6,544.4C1743.9,538.1 1745.0,530.8 1746.3,525.9C1747.6,521.1 1748.5,519.4 1750.0,516.0C1751.5,512.7 1753.2,509.1 1754.9,506.2C1756.7,503.2 1758.7,498.8 1760.4,498.8C1762.0,498.8 1763.0,503.0 1764.8,506.2C1766.6,509.3 1769.2,514.8 1771.0,517.3C1772.8,519.8 1773.5,519.1 1775.2,521.0C1776.9,522.9 1779.3,526.9 1780.9,528.4C1782.5,529.9 1783.3,529.7 1784.6,529.6C1785.8,529.5 1786.8,526.9 1788.3,527.9C1789.7,529.0 1791.7,534.0 1793.2,535.8C1794.7,537.6 1795.4,537.4 1796.9,538.3C1798.4,539.1 1800.0,538.6 1801.9,540.7C1803.7,542.8 1806.3,549.0 1808.0,550.6C1809.7,552.2 1810.3,549.1 1811.7,550.1C1813.2,551.2 1815.0,554.6 1816.7,556.8C1818.3,559.0 1820.1,561.0 1821.6,563.0C1823.1,564.9 1823.9,567.1 1825.3,568.4C1826.7,569.7 1828.2,570.5 1830.0,570.4C1831.8,570.3 1834.3,567.7 1836.2,567.9C1838.1,568.1 1839.2,571.5 1841.1,571.6C1843.0,571.7 1845.4,568.9 1847.3,568.6C1849.2,568.4 1850.3,571.0 1852.2,570.4C1854.1,569.7 1856.5,566.2 1858.4,564.7C1860.3,563.1 1861.7,561.5 1863.3,561.2C1865.0,560.9 1866.6,563.9 1868.3,563.0C1870.0,562.0 1871.5,557.1 1873.2,555.6C1874.9,554.0 1876.7,555.1 1878.1,553.8C1879.6,552.6 1880.6,549.1 1881.9,548.1C1883.1,547.2 1884.1,549.4 1885.6,548.1C1887.0,546.9 1888.9,543.0 1890.5,540.7C1892.0,538.4 1893.0,535.1 1894.7,534.6C1896.4,534.0 1898.8,538.6 1900.4,537.5C1902.0,536.5 1902.6,531.6 1904.1,528.4C1905.5,525.2 1907.1,521.2 1909.0,518.5C1910.9,515.8 1913.3,514.4 1915.2,512.3C1917.1,510.2 1918.4,509.0 1920.1,506.2C1921.8,503.3 1923.6,498.8 1925.1,495.6C1926.5,492.3 1927.5,489.9 1928.8,486.9C1930.0,484.0 1931.2,481.0 1932.5,478.3C1933.7,475.5 1934.8,472.5 1936.2,470.9C1937.6,469.2 1939.1,470.3 1940.6,468.4C1942.1,466.5 1943.3,462.1 1944.8,459.8C1946.4,457.4 1948.3,456.5 1949.8,454.8C1951.2,453.1 1952.2,450.7 1953.5,449.9C1954.7,449.0 1955.8,450.9 1957.2,449.9C1958.5,448.8 1960.2,443.7 1961.6,443.7C1963.0,443.7 1964.2,449.1 1965.3,449.9C1966.4,450.6 1967.3,448.8 1968.3,448.1C1969.3,447.5 1970.0,445.3 1971.2,446.2C1972.5,447.0 1974.3,452.7 1975.7,453.1C1977.1,453.5 1978.1,449.6 1979.4,448.6C1980.6,447.7 1981.6,446.8 1983.1,447.4C1984.6,448.0 1986.6,450.9 1988.0,452.3C1989.5,453.8 1990.6,455.2 1991.7,456.0C1992.9,456.9 1993.7,456.4 1994.9,457.3C1996.2,458.2 1997.4,460.9 1999.1,461.5C2000.9,462.0 2003.6,459.3 2005.3,460.5C2007.0,461.7 2007.8,466.2 2009.0,468.4C2010.3,470.6 2011.2,472.5 2012.7,473.3C2014.2,474.2 2016.2,472.9 2017.7,473.3C2019.1,473.8 2020.1,474.5 2021.4,475.8C2022.6,477.1 2023.6,478.2 2025.1,480.7C2026.5,483.3 2028.3,487.7 2030.0,490.6C2031.7,493.6 2033.7,496.4 2034.9,498.0C2036.2,499.6 2036.1,498.2 2037.4,500.0C2038.7,501.8 2040.7,506.3 2042.3,508.6C2044.0,511.0 2045.6,511.1 2047.3,513.6C2049.0,516.1 2050.5,520.1 2052.2,523.5C2053.9,526.8 2055.5,529.8 2057.2,533.3C2058.8,536.9 2060.4,540.9 2062.1,544.4C2063.8,548.0 2065.4,551.0 2067.0,554.3C2068.7,557.6 2070.3,561.2 2072.0,563.7C2073.7,566.2 2075.2,568.0 2076.9,569.1C2078.6,570.3 2080.4,568.9 2081.9,570.4C2083.3,571.8 2084.3,575.4 2085.6,577.8C2086.8,580.2 2088.0,583.2 2089.3,584.4C2090.5,585.7 2091.5,583.7 2093.0,585.2C2094.4,586.7 2096.2,591.5 2097.9,593.3C2099.6,595.1 2101.2,594.7 2102.8,595.8C2104.5,596.9 2106.1,598.5 2107.8,600.0C2109.4,601.5 2110.7,603.9 2112.6,604.4C2114.6,605.0 2117.5,602.0 2119.3,603.2C2121.1,604.4 2122.1,610.1 2123.2,611.4C2124.3,612.6 2124.8,611.5 2125.7,610.6C2126.6,609.8 2127.5,606.3 2128.7,606.4C2129.8,606.5 2131.1,609.8 2132.4,611.4C2133.6,612.9 2134.6,614.2 2136.1,615.6C2137.5,616.9 2139.3,618.4 2141.0,619.3C2142.7,620.1 2144.4,620.5 2146.0,620.5C2147.5,620.5 2149.1,619.1 2150.4,619.3C2151.7,619.4 2152.7,619.9 2153.9,621.2C2155.0,622.6 2156.1,625.6 2157.1,627.2C2158.0,628.7 2158.5,630.5 2159.5,630.4C2160.6,630.3 2161.8,627.9 2163.2,626.7C2164.7,625.4 2166.7,624.4 2168.2,623.0C2169.6,621.5 2170.5,619.9 2171.9,618.0C2173.2,616.1 2174.6,612.7 2176.1,611.9C2177.5,611.0 2178.9,613.5 2180.5,613.1C2182.1,612.7 2183.8,610.9 2185.5,609.4C2187.1,607.9 2188.5,606.2 2190.4,604.4C2192.3,602.7 2194.8,599.5 2196.6,599.0C2198.3,598.5 2199.5,601.8 2200.8,601.5C2202.0,601.1 2202.8,599.0 2204.0,597.0C2205.2,595.1 2206.4,591.3 2207.7,590.1C2208.9,588.9 2209.9,591.3 2211.4,590.1C2212.9,589.0 2214.6,585.8 2216.3,583.5C2218.0,581.1 2219.8,577.9 2221.3,576.0C2222.7,574.2 2223.5,573.6 2225.0,572.3C2226.4,571.1 2228.4,569.1 2229.9,568.6C2231.4,568.1 2232.3,569.7 2233.6,569.4C2234.9,569.1 2236.0,566.8 2237.3,566.9C2238.6,567.0 2239.5,570.8 2241.0,569.9C2242.5,568.9 2244.5,563.5 2246.0,561.2C2247.4,559.0 2248.4,557.8 2249.7,556.8C2250.9,555.8 2251.7,557.1 2253.4,555.6C2255.0,554.0 2257.9,549.3 2259.5,547.7C2261.2,546.0 2261.8,546.1 2263.2,545.7C2264.7,545.3 2266.4,546.9 2268.2,545.2C2270.0,543.4 2272.2,537.2 2273.9,535.3C2275.5,533.4 2276.7,534.5 2278.0,533.8C2279.4,533.2 2280.4,532.8 2281.8,531.4C2283.1,529.9 2284.9,525.7 2286.2,525.4C2287.5,525.1 2288.0,528.1 2289.2,529.6C2290.3,531.2 2291.6,534.8 2292.9,534.6C2294.1,534.4 2295.3,530.3 2296.6,528.4C2297.8,526.5 2299.0,523.5 2300.3,523.5C2301.5,523.4 2302.5,526.4 2304.0,527.9C2305.4,529.4 2307.4,531.0 2308.9,532.1C2310.4,533.2 2311.4,534.4 2312.6,534.6C2313.9,534.7 2315.1,532.2 2316.3,532.8C2317.6,533.5 2318.8,536.1 2320.0,538.3C2321.3,540.5 2322.5,543.8 2323.7,545.7C2325.0,547.6 2326.2,549.6 2327.4,549.4C2328.7,549.2 2329.9,544.2 2331.1,544.4C2332.4,544.7 2333.6,548.6 2334.8,550.6C2336.1,552.6 2337.3,554.6 2338.5,556.0C2339.8,557.5 2341.2,558.3 2342.2,559.3C2343.3,560.2 2344.3,561.3 2344.7,561.7" stroke="#ff3300" stroke-width="3.2"/>
<path class="cv" d="M1260.4,486.9C1261.1,486.3 1263.2,484.0 1264.8,483.5C1266.4,483.0 1268.1,483.4 1269.8,484.0C1271.4,484.5 1273.0,487.5 1274.7,486.9C1276.4,486.3 1278.0,480.7 1279.6,480.2C1281.3,479.8 1282.7,484.2 1284.6,484.4C1286.5,484.7 1288.9,480.5 1290.7,481.5C1292.6,482.4 1294.2,489.5 1295.7,490.1C1297.1,490.8 1298.3,487.2 1299.4,485.2C1300.4,483.2 1300.4,478.3 1301.9,478.5C1303.3,478.7 1305.9,485.3 1308.0,486.4C1310.1,487.6 1311.9,483.7 1314.2,485.2C1316.5,486.7 1319.7,493.2 1321.6,495.1C1323.5,497.0 1324.0,496.7 1325.3,496.3C1326.6,495.9 1327.3,492.8 1329.0,492.6C1330.7,492.4 1333.5,494.3 1335.2,495.1C1336.9,495.8 1337.4,496.9 1338.9,496.8C1340.4,496.7 1342.1,493.6 1343.8,494.3C1345.5,495.1 1346.7,499.0 1348.8,501.2C1350.9,503.5 1353.9,506.8 1356.2,507.4C1358.5,508.0 1360.0,505.4 1362.3,504.9C1364.7,504.5 1367.2,503.3 1369.8,504.9C1372.3,506.6 1374.9,513.8 1377.2,514.8C1379.4,515.9 1381.0,511.1 1382.8,511.1C1384.7,511.1 1386.7,514.6 1388.3,514.8C1389.8,515.0 1390.3,512.6 1392.0,512.3C1393.7,512.1 1396.3,513.5 1398.1,513.6C1400.0,513.7 1401.2,513.7 1403.1,513.1C1405.0,512.5 1407.4,510.1 1409.3,509.9C1411.1,509.6 1412.7,512.0 1414.2,511.6C1415.7,511.2 1416.2,507.6 1417.9,507.4C1419.6,507.2 1422.0,511.0 1424.1,510.6C1426.2,510.2 1428.4,506.7 1430.2,504.9C1432.1,503.1 1433.5,501.1 1435.2,500.0C1436.9,498.9 1438.2,497.7 1440.1,498.3C1442.0,498.8 1444.2,503.1 1446.3,503.2C1448.4,503.3 1450.6,500.0 1452.5,498.8C1454.4,497.5 1455.7,496.0 1457.4,495.8C1459.1,495.6 1460.7,498.4 1462.3,497.5C1464.0,496.7 1465.6,491.6 1467.3,490.9C1469.0,490.2 1470.5,493.3 1472.2,493.3C1473.9,493.3 1475.3,491.5 1477.2,490.9C1479.0,490.2 1481.4,488.7 1483.3,489.4C1485.2,490.1 1486.6,494.3 1488.3,495.1C1490.0,495.8 1491.3,492.4 1493.2,493.8C1495.1,495.2 1498.2,501.7 1499.4,503.2C1500.5,504.7 1499.2,503.4 1500.0,502.7C1500.8,502.0 1502.4,499.9 1504.0,499.3C1505.5,498.6 1507.2,498.3 1508.9,498.8C1510.6,499.3 1511.5,501.7 1513.8,502.2C1516.2,502.7 1520.1,500.4 1522.7,501.7C1525.3,503.1 1527.0,509.6 1529.1,510.1C1531.3,510.6 1533.8,504.9 1535.6,504.7C1537.3,504.5 1537.8,507.0 1539.5,509.1L1545.4,517.0L1547.3,500.0L1548.3,430.0L1551.2,304.0L1552.8,440.0L1553.8,560.0L1554.3,600.0L1555.1,664.0L1557.4,600.0L1558.6,540.0L1561.7,492.8L1564.3,505.0L1567.2,530.9L1572.1,514.1L1576.5,519.0C1578.1,519.0 1579.7,514.1 1581.5,514.1C1583.2,514.1 1585.0,519.6 1586.9,519.0C1588.8,518.4 1590.8,511.9 1592.8,510.6C1594.9,509.4 1596.2,512.9 1598.8,511.6C1601.3,510.3 1605.1,504.1 1607.7,503.2C1610.2,502.3 1611.5,506.3 1613.6,506.2C1615.7,506.0 1618.6,503.5 1620.0,502.2C1621.4,501.0 1620.4,499.9 1621.6,498.8C1622.8,497.7 1624.9,495.8 1627.0,495.8C1629.1,495.8 1631.6,499.7 1634.0,498.8C1636.3,497.8 1638.3,491.3 1640.9,490.1C1643.4,488.9 1646.6,492.0 1648.8,491.9C1650.9,491.7 1652.4,489.5 1653.7,489.4C1655.0,489.3 1655.4,491.7 1656.7,491.4C1657.9,491.1 1659.9,487.9 1661.1,487.7C1662.4,487.4 1663.0,490.2 1664.1,490.1C1665.1,490.0 1665.9,486.9 1667.3,486.9C1668.7,486.9 1670.3,490.8 1672.2,490.1C1674.1,489.4 1676.5,484.4 1678.4,482.7C1680.3,481.0 1681.7,481.7 1683.3,480.2C1685.0,478.8 1686.9,475.9 1688.3,474.1C1689.7,472.3 1690.2,469.2 1691.5,469.6C1692.7,470.0 1694.1,474.1 1695.7,476.5C1697.2,479.0 1699.1,482.2 1700.6,484.0C1702.1,485.7 1703.1,486.7 1704.3,486.9C1705.6,487.1 1706.6,484.3 1708.0,485.2C1709.5,486.0 1711.3,491.1 1713.0,491.9C1714.6,492.6 1716.2,487.4 1717.9,489.4C1719.6,491.4 1721.1,499.8 1722.8,503.7C1724.6,507.6 1726.4,512.3 1728.3,512.3C1730.2,512.3 1732.1,507.7 1734.0,503.7C1735.8,499.7 1737.4,493.9 1738.9,488.9C1740.4,483.9 1741.1,479.3 1742.6,474.1C1744.1,468.8 1745.9,462.9 1747.5,458.0C1749.2,453.2 1751.0,448.2 1752.5,445.7C1753.9,443.2 1754.9,444.3 1756.2,443.2C1757.4,442.2 1758.6,439.1 1759.9,439.5C1761.1,439.9 1762.3,443.4 1763.6,445.7C1764.8,448.0 1766.0,451.3 1767.3,453.1C1768.5,454.9 1769.6,455.5 1771.0,456.3C1772.3,457.1 1773.5,456.2 1775.2,458.0C1776.9,459.9 1779.3,466.3 1780.9,467.2C1782.5,468.0 1783.3,463.9 1784.6,463.0C1785.8,462.0 1786.8,460.3 1788.3,461.7C1789.7,463.2 1791.7,469.6 1793.2,471.6C1794.7,473.6 1795.7,472.3 1796.9,473.6C1798.2,474.8 1799.1,477.0 1800.6,479.0C1802.1,481.0 1803.9,484.1 1805.6,485.2C1807.2,486.2 1808.8,483.7 1810.5,485.2C1812.2,486.7 1814.0,491.3 1815.4,493.8C1816.9,496.3 1817.8,499.1 1819.1,500.0C1820.5,500.9 1822.1,498.8 1823.6,499.3C1825.0,499.7 1826.7,501.5 1827.8,502.5C1828.9,503.4 1828.6,504.0 1830.0,504.9C1831.4,505.9 1834.1,507.0 1836.2,507.9C1838.3,508.8 1840.7,510.2 1842.3,510.4C1844.0,510.6 1844.6,510.6 1846.0,509.1C1847.5,507.7 1849.3,502.6 1851.0,501.7C1852.7,500.9 1854.5,503.8 1855.9,504.2C1857.4,504.6 1858.2,504.9 1859.6,504.2C1861.1,503.5 1862.7,501.4 1864.6,500.0C1866.5,498.6 1868.9,497.6 1870.7,496.0C1872.6,494.5 1874.2,492.7 1875.7,491.1C1877.1,489.6 1877.9,487.1 1879.4,486.9C1880.9,486.7 1882.6,490.8 1884.3,490.1C1886.0,489.5 1887.5,485.4 1889.3,483.2C1891.0,481.0 1893.0,478.8 1894.7,477.0C1896.4,475.3 1897.8,473.7 1899.1,472.8C1900.5,472.0 1901.6,474.1 1902.8,472.1C1904.1,470.1 1905.3,464.8 1906.5,461.0C1907.8,457.2 1908.8,453.0 1910.2,449.9C1911.7,446.7 1913.5,445.0 1915.2,442.5C1916.9,440.0 1918.7,437.6 1920.1,435.1C1921.6,432.5 1922.6,431.0 1923.8,427.7C1925.1,424.3 1926.3,418.5 1927.5,415.3C1928.8,412.2 1930.0,410.6 1931.2,409.1C1932.5,407.7 1933.5,408.6 1934.9,406.7C1936.4,404.8 1938.6,400.3 1939.9,398.0C1941.1,395.7 1941.3,393.9 1942.3,393.1C1943.4,392.2 1944.8,394.3 1946.0,393.1C1947.3,391.8 1948.7,387.7 1949.8,385.7C1950.8,383.7 1951.0,382.3 1952.2,381.5C1953.5,380.6 1955.6,381.5 1957.2,380.7C1958.7,380.0 1960.0,377.0 1961.4,377.0C1962.7,377.0 1963.9,380.7 1965.3,380.7C1966.7,380.8 1968.2,378.5 1969.5,377.5C1970.8,376.6 1971.7,375.1 1972.7,375.1C1973.8,375.0 1974.5,375.8 1975.7,377.0C1976.8,378.3 1978.2,380.9 1979.4,382.5C1980.6,384.1 1981.3,386.0 1982.6,386.4C1983.9,386.8 1985.2,384.2 1986.8,384.9C1988.3,385.7 1990.0,389.4 1991.7,390.6C1993.4,391.8 1995.0,390.2 1996.7,391.9C1998.3,393.5 2000.1,399.2 2001.6,400.5C2003.2,401.8 2004.3,398.5 2005.8,399.3C2007.3,400.0 2008.7,403.0 2010.2,404.7C2011.8,406.4 2013.3,407.0 2015.2,409.1C2017.1,411.2 2019.5,415.4 2021.4,417.0C2023.2,418.7 2024.4,416.6 2026.3,419.0C2028.2,421.4 2030.6,428.8 2032.5,431.4C2034.4,433.9 2035.7,432.6 2037.4,433.8C2039.1,435.1 2040.7,436.9 2042.3,438.8C2044.0,440.7 2045.6,442.8 2047.3,444.9C2049.0,447.0 2050.5,449.2 2052.2,451.1C2053.9,453.0 2055.5,455.2 2057.2,456.0C2058.8,456.9 2060.6,454.6 2062.1,456.0C2063.6,457.5 2064.3,462.3 2065.7,464.7C2067.2,467.1 2069.0,467.7 2070.6,470.4C2072.3,473.0 2073.9,477.5 2075.6,480.2C2077.3,483.0 2078.6,484.2 2080.5,486.4C2082.4,488.6 2084.8,493.2 2086.7,493.3C2088.6,493.4 2090.2,487.8 2091.6,486.9C2093.1,486.1 2094.1,487.2 2095.3,488.4C2096.6,489.6 2097.5,490.8 2099.0,493.8C2100.6,496.8 2102.6,504.8 2104.5,506.2C2106.4,507.5 2108.6,502.1 2110.1,501.7C2111.7,501.3 2112.3,503.8 2113.9,503.7C2115.4,503.6 2117.7,501.2 2119.3,501.2C2120.9,501.2 2121.8,502.4 2123.2,503.7C2124.6,505.0 2126.1,507.2 2127.4,508.6C2128.8,510.1 2129.9,512.3 2131.1,512.3C2132.4,512.3 2133.6,508.9 2134.8,508.6C2136.1,508.3 2137.1,509.7 2138.5,510.6C2140.0,511.5 2141.8,513.2 2143.5,514.1C2145.2,515.0 2147.0,515.7 2148.4,516.0C2149.9,516.4 2150.7,516.9 2152.1,516.0C2153.6,515.2 2155.8,511.5 2157.1,511.1C2158.3,510.7 2158.3,511.7 2159.5,513.6C2160.8,515.5 2163.2,521.0 2164.5,522.2C2165.7,523.5 2165.9,522.5 2166.9,521.0C2168.0,519.5 2169.2,516.0 2170.6,513.6C2172.1,511.1 2174.1,508.1 2175.6,506.7C2177.0,505.2 2178.2,505.8 2179.3,504.9C2180.3,504.1 2180.7,502.0 2181.8,501.7C2182.8,501.4 2184.0,503.8 2185.5,503.2C2186.9,502.6 2188.7,499.2 2190.4,498.3C2192.1,497.3 2193.9,498.1 2195.3,497.5C2196.8,497.0 2197.6,497.0 2199.0,495.1C2200.5,493.2 2202.5,488.5 2204.0,486.4C2205.4,484.3 2206.4,483.9 2207.7,482.7C2208.9,481.5 2210.1,479.9 2211.4,479.5C2212.6,479.1 2213.8,481.2 2215.1,480.2C2216.3,479.3 2217.3,476.5 2218.8,474.1C2220.3,471.7 2222.3,467.4 2223.7,466.2C2225.2,464.9 2226.0,466.9 2227.4,466.7C2228.9,466.4 2230.8,464.6 2232.4,464.7C2234.0,464.8 2235.3,467.7 2236.8,467.2C2238.3,466.6 2239.7,462.8 2241.0,461.2C2242.4,459.7 2243.5,458.7 2244.7,458.0C2246.0,457.4 2247.2,458.5 2248.4,457.3C2249.7,456.0 2250.9,453.3 2252.1,450.6C2253.4,447.9 2254.6,443.0 2255.8,441.5C2257.1,440.0 2258.1,441.9 2259.5,442.0C2261.0,442.1 2262.8,442.6 2264.5,442.0C2266.1,441.3 2267.7,439.1 2269.4,438.3C2271.1,437.4 2272.7,437.8 2274.3,437.0C2276.0,436.3 2277.6,435.0 2279.3,434.1C2281.0,433.2 2282.8,431.9 2284.2,431.6C2285.7,431.3 2286.6,432.2 2287.9,432.1C2289.3,432.0 2290.9,430.1 2292.1,430.9C2293.4,431.6 2294.4,434.9 2295.3,436.5C2296.3,438.2 2296.5,440.4 2297.8,440.7C2299.1,441.0 2301.3,438.3 2302.7,438.3C2304.2,438.3 2305.2,440.0 2306.4,440.7C2307.7,441.5 2308.5,441.2 2310.1,442.5C2311.8,443.7 2314.4,446.3 2316.3,448.1C2318.2,450.0 2319.4,452.1 2321.3,453.1C2323.1,454.1 2325.8,452.4 2327.4,453.8C2329.1,455.2 2329.9,459.9 2331.1,461.2C2332.4,462.6 2333.6,460.6 2334.8,461.7C2336.1,462.9 2337.3,466.1 2338.5,467.9C2339.8,469.7 2341.2,471.4 2342.2,472.1C2343.3,472.8 2344.3,472.1 2344.7,472.1" stroke="#0e4088" stroke-width="2.8"/>
</g>
<path d="M1820.0,57.3 h31.4" stroke="#0e4088" stroke-width="3.1" stroke-linecap="round" fill="none"/>
<text class="lg" y="62.3"><tspan x="1856.6" textLength="58" lengthAdjust="spacingAndGlyphs">before</tspan><tspan x="1919.8" textLength="50.3" lengthAdjust="spacingAndGlyphs">tsDCS</tspan></text>
<path d="M2098.6,57.3 h31.4" stroke="#ff3300" stroke-width="3.6" stroke-linecap="round" fill="none"/>
<text class="lg" y="62.3"><tspan x="2135.0" textLength="42" lengthAdjust="spacingAndGlyphs">after</tspan><tspan x="2182.3" textLength="50.3" lengthAdjust="spacingAndGlyphs">tsDCS</tspan></text>
<rect x="1722.2" y="387.0" width="79.7" height="42.6" fill="#fff" stroke="#000" stroke-width="1.5"/><text class="an" x="1722.8" y="418.1" font-size="35.9" textLength="69.2" lengthAdjust="spacingAndGlyphs">N20</text><path d="M1759.6,429.6 V439.4" stroke="#000" stroke-width="2.2" fill="none"/>
<rect x="1807.8" y="450.6" width="66.6" height="34.6" fill="#fff" stroke="#000" stroke-width="1.5"/><text class="an" x="1808.2" y="482.0" font-size="35.0" textLength="62.4" lengthAdjust="spacingAndGlyphs">P25</text><path d="M1841.7,485.2 V509.0" stroke="#000" stroke-width="2.2" fill="none"/>
</svg>
</body>
</html>
